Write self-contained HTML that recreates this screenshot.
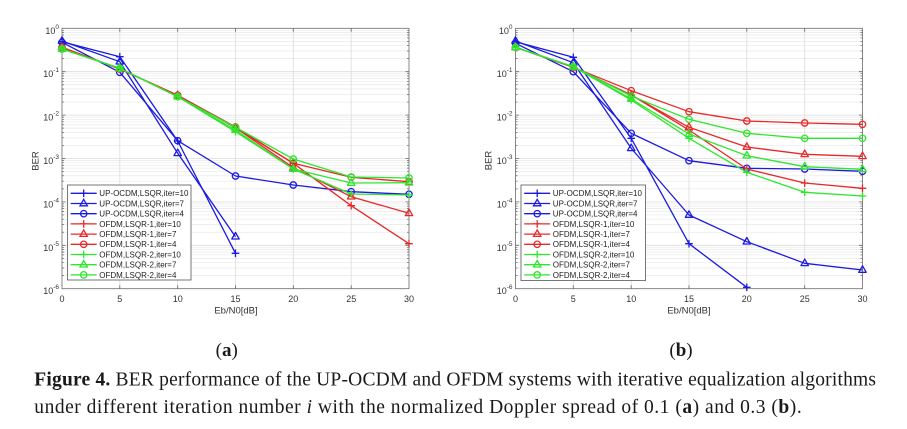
<!DOCTYPE html>
<html>
<head>
<meta charset="utf-8">
<style>
html,body{margin:0;padding:0;background:#fff;}
svg{display:block;}
</style>
</head>
<body>
<svg xmlns="http://www.w3.org/2000/svg" xmlns:xlink="http://www.w3.org/1999/xlink" width="907" height="429" viewBox="0 0 907 429">
<defs>
<path id="hmin" d="M62 30.29H409M62 32.51H409M62 35.02H409M62 37.93H409M62 41.36H409M62 45.57H409M62 50.99H409M62 58.64H409M62 73.69H409M62 75.91H409M62 78.42H409M62 81.33H409M62 84.76H409M62 88.97H409M62 94.39H409M62 102.04H409M62 117.09H409M62 119.31H409M62 121.82H409M62 124.73H409M62 128.16H409M62 132.37H409M62 137.79H409M62 145.44H409M62 160.49H409M62 162.71H409M62 165.22H409M62 168.13H409M62 171.56H409M62 175.77H409M62 181.19H409M62 188.84H409M62 203.89H409M62 206.11H409M62 208.62H409M62 211.53H409M62 214.96H409M62 219.17H409M62 224.59H409M62 232.24H409M62 247.29H409M62 249.51H409M62 252.02H409M62 254.93H409M62 258.36H409M62 262.57H409M62 267.99H409M62 275.64H409"/>
<path id="hmaj" d="M62 71.7H409M62 115.1H409M62 158.5H409M62 201.9H409M62 245.3H409"/>
<path id="vmaj" d="M119.8 28.3V288.7M177.7 28.3V288.7M235.5 28.3V288.7M293.3 28.3V288.7M351.2 28.3V288.7"/>
<clipPath id="c2" clipPathUnits="userSpaceOnUse"><rect x="62" y="28" width="2" height="261"/><rect x="407" y="28" width="2" height="261"/></clipPath>
<clipPath id="c4" clipPathUnits="userSpaceOnUse"><rect x="62" y="28" width="3.5" height="261"/><rect x="405.5" y="28" width="3.5" height="261"/></clipPath>
<clipPath id="cv" clipPathUnits="userSpaceOnUse"><rect x="62" y="28.3" width="347" height="3.5"/><rect x="62" y="285.2" width="347" height="3.5"/></clipPath>
<g id="frame" fill="none">
 <use xlink:href="#hmin" href="#hmin" stroke="#e9e9e9" stroke-width="0.7"/>
 <use xlink:href="#hmaj" href="#hmaj" stroke="#dcdcdc" stroke-width="0.8"/>
 <use xlink:href="#vmaj" href="#vmaj" stroke="#dcdcdc" stroke-width="0.8"/>
 <use xlink:href="#hmin" href="#hmin" stroke="#666" stroke-width="0.7" clip-path="url(#c2)"/>
 <use xlink:href="#hmaj" href="#hmaj" stroke="#666" stroke-width="0.8" clip-path="url(#c4)"/>
 <use xlink:href="#vmaj" href="#vmaj" stroke="#666" stroke-width="0.8" clip-path="url(#cv)"/>
 <rect x="62" y="28.3" width="347" height="260.4" fill="none" stroke="#6a6a6a" stroke-width="0.8"/>
</g>
<path id="mp" d="M0,-3.8V3.8M-3.8,0H3.8"/>
<path id="mt" d="M0,-4.2L3.7,2.3H-3.7Z"/>
<circle id="mc" r="3.2"/>
</defs>

<rect width="907" height="429" fill="#fff"/>

<use xlink:href="#frame" href="#frame"/>
<use xlink:href="#frame" href="#frame" x="453.5"/>

<g font-family="Liberation Sans, Arial, sans-serif" font-size="9" fill="#333">
 <g text-anchor="middle">
  <text x="62" y="302">0</text><text x="119.8" y="302">5</text><text x="177.7" y="302">10</text><text x="235.5" y="302">15</text><text x="293.3" y="302">20</text><text x="351.2" y="302">25</text><text x="409" y="302">30</text>
  <text x="515.5" y="302">0</text><text x="573.3" y="302">5</text><text x="631.2" y="302">10</text><text x="689" y="302">15</text><text x="746.8" y="302">20</text><text x="804.7" y="302">25</text><text x="862.5" y="302">30</text>
 </g>
 <g text-anchor="end">
  <text x="59" y="33.8">10<tspan font-size="6.5" dy="-5">0</tspan></text>
  <text x="59" y="77.2">10<tspan font-size="6.5" dy="-5">-1</tspan></text>
  <text x="59" y="120.6">10<tspan font-size="6.5" dy="-5">-2</tspan></text>
  <text x="59" y="164">10<tspan font-size="6.5" dy="-5">-3</tspan></text>
  <text x="59" y="207.4">10<tspan font-size="6.5" dy="-5">-4</tspan></text>
  <text x="59" y="250.8">10<tspan font-size="6.5" dy="-5">-5</tspan></text>
  <text x="59" y="294.2">10<tspan font-size="6.5" dy="-5">-6</tspan></text>
  <text x="512.5" y="33.8">10<tspan font-size="6.5" dy="-5">0</tspan></text>
  <text x="512.5" y="77.2">10<tspan font-size="6.5" dy="-5">-1</tspan></text>
  <text x="512.5" y="120.6">10<tspan font-size="6.5" dy="-5">-2</tspan></text>
  <text x="512.5" y="164">10<tspan font-size="6.5" dy="-5">-3</tspan></text>
  <text x="512.5" y="207.4">10<tspan font-size="6.5" dy="-5">-4</tspan></text>
  <text x="512.5" y="250.8">10<tspan font-size="6.5" dy="-5">-5</tspan></text>
  <text x="512.5" y="294.2">10<tspan font-size="6.5" dy="-5">-6</tspan></text>
 </g>
 <g font-size="9.5" text-anchor="middle" fill="#333">
  <text x="236" y="313.5">Eb/N0[dB]</text>
  <text x="689" y="313.5">Eb/N0[dB]</text>
  <text transform="translate(38.4,161) rotate(-90)">BER</text>
  <text transform="translate(491.7,160.5) rotate(-90)">BER</text>
 </g>
</g>

<g fill="none" stroke-width="1.3" stroke-linejoin="round">
 <g stroke="#1a1ae0">
  <polyline points="62,41.7 119.8,56.7 177.7,141 235.5,253.3"/>
  <use href="#mp" x="62" y="41.7"/><use href="#mp" x="119.8" y="56.7"/><use href="#mp" x="177.7" y="141"/><use href="#mp" x="235.5" y="253.3"/>
  <polyline points="62,41 119.8,61.7 177.7,153.3 235.5,236.7"/>
  <use href="#mt" x="62" y="41"/><use href="#mt" x="119.8" y="61.7"/><use href="#mt" x="177.7" y="153.3"/><use href="#mt" x="235.5" y="236.7"/>
  <polyline points="62,42.3 119.8,72.3 177.7,140.7 235.5,176 293.3,185 351.2,191.7 409,194.3"/>
  <use href="#mc" x="62" y="42.3"/><use href="#mc" x="119.8" y="72.3"/><use href="#mc" x="177.7" y="140.7"/><use href="#mc" x="235.5" y="176"/><use href="#mc" x="293.3" y="185"/><use href="#mc" x="351.2" y="191.7"/><use href="#mc" x="409" y="194.3"/>
 </g>
 <g stroke="#e82828">
  <polyline points="62,47.3 119.8,69 177.7,95.3 235.5,127.7 293.3,163.3 351.2,205.7 409,243.7"/>
  <use href="#mp" x="62" y="47.3"/><use href="#mp" x="119.8" y="69"/><use href="#mp" x="177.7" y="95.3"/><use href="#mp" x="235.5" y="127.7"/><use href="#mp" x="293.3" y="163.3"/><use href="#mp" x="351.2" y="205.7"/><use href="#mp" x="409" y="243.7"/>
  <polyline points="62,47.3 119.8,69 177.7,95.3 235.5,127.7 293.3,167.7 351.2,196.7 409,213.3"/>
  <use href="#mt" x="62" y="47.3"/><use href="#mt" x="119.8" y="69"/><use href="#mt" x="177.7" y="95.3"/><use href="#mt" x="235.5" y="127.7"/><use href="#mt" x="293.3" y="167.7"/><use href="#mt" x="351.2" y="196.7"/><use href="#mt" x="409" y="213.3"/>
  <polyline points="62,47.3 119.8,69 177.7,95.3 235.5,127 293.3,163.3 351.2,177.3 409,181.7"/>
  <use href="#mc" x="62" y="47.3"/><use href="#mc" x="119.8" y="69"/><use href="#mc" x="177.7" y="95.3"/><use href="#mc" x="235.5" y="127"/><use href="#mc" x="293.3" y="163.3"/><use href="#mc" x="351.2" y="177.3"/><use href="#mc" x="409" y="181.7"/>
 </g>
 <g stroke="#2ee62e">
  <polyline points="62,49 119.8,68.3 177.7,96.7 235.5,131.7 293.3,169 351.2,194 409,195"/>
  <use href="#mp" x="62" y="49"/><use href="#mp" x="119.8" y="68.3"/><use href="#mp" x="177.7" y="96.7"/><use href="#mp" x="235.5" y="131.7"/><use href="#mp" x="293.3" y="169"/><use href="#mp" x="351.2" y="194"/><use href="#mp" x="409" y="195"/>
  <polyline points="62,49 119.8,68.3 177.7,96.7 235.5,130 293.3,169 351.2,183 409,182.7"/>
  <use href="#mt" x="62" y="49"/><use href="#mt" x="119.8" y="68.3"/><use href="#mt" x="177.7" y="96.7"/><use href="#mt" x="235.5" y="130"/><use href="#mt" x="293.3" y="169"/><use href="#mt" x="351.2" y="183"/><use href="#mt" x="409" y="182.7"/>
  <polyline points="62,49 119.8,68.3 177.7,96.7 235.5,127.3 293.3,159 351.2,177 409,178"/>
  <use href="#mc" x="62" y="49"/><use href="#mc" x="119.8" y="68.3"/><use href="#mc" x="177.7" y="96.7"/><use href="#mc" x="235.5" y="127.3"/><use href="#mc" x="293.3" y="159"/><use href="#mc" x="351.2" y="177"/><use href="#mc" x="409" y="178"/>
 </g>
</g>

<g fill="none" stroke-width="1.3" stroke-linejoin="round">
 <g stroke="#1a1ae0">
  <polyline points="515.5,41.7 573.3,57.3 631.2,138.3 689,243.7 746.8,287.3"/>
  <use href="#mp" x="515.5" y="41.7"/><use href="#mp" x="573.3" y="57.3"/><use href="#mp" x="631.2" y="138.3"/><use href="#mp" x="689" y="243.7"/><use href="#mp" x="746.8" y="287.3"/>
  <polyline points="515.5,41 573.3,62.7 631.2,148.3 689,215 746.8,241.7 804.7,263.3 862.5,270"/>
  <use href="#mt" x="515.5" y="41"/><use href="#mt" x="573.3" y="62.7"/><use href="#mt" x="631.2" y="148.3"/><use href="#mt" x="689" y="215"/><use href="#mt" x="746.8" y="241.7"/><use href="#mt" x="804.7" y="263.3"/><use href="#mt" x="862.5" y="270"/>
  <polyline points="515.5,43.3 573.3,71.7 631.2,133.3 689,160.7 746.8,168.3 804.7,169 862.5,171.3"/>
  <use href="#mc" x="515.5" y="43.3"/><use href="#mc" x="573.3" y="71.7"/><use href="#mc" x="631.2" y="133.3"/><use href="#mc" x="689" y="160.7"/><use href="#mc" x="746.8" y="168.3"/><use href="#mc" x="804.7" y="169"/><use href="#mc" x="862.5" y="171.3"/>
 </g>
 <g stroke="#e82828">
  <polyline points="515.5,47.3 573.3,67.3 631.2,95 689,130 746.8,169 804.7,183 862.5,188.3"/>
  <use href="#mp" x="515.5" y="47.3"/><use href="#mp" x="573.3" y="67.3"/><use href="#mp" x="631.2" y="95"/><use href="#mp" x="689" y="130"/><use href="#mp" x="746.8" y="169"/><use href="#mp" x="804.7" y="183"/><use href="#mp" x="862.5" y="188.3"/>
  <polyline points="515.5,47.3 573.3,67.3 631.2,95 689,127.3 746.8,147 804.7,154.3 862.5,156.3"/>
  <use href="#mt" x="515.5" y="47.3"/><use href="#mt" x="573.3" y="67.3"/><use href="#mt" x="631.2" y="95"/><use href="#mt" x="689" y="127.3"/><use href="#mt" x="746.8" y="147"/><use href="#mt" x="804.7" y="154.3"/><use href="#mt" x="862.5" y="156.3"/>
  <polyline points="515.5,47.3 573.3,67.3 631.2,90.7 689,111.7 746.8,121 804.7,123 862.5,124.3"/>
  <use href="#mc" x="515.5" y="47.3"/><use href="#mc" x="573.3" y="67.3"/><use href="#mc" x="631.2" y="90.7"/><use href="#mc" x="689" y="111.7"/><use href="#mc" x="746.8" y="121"/><use href="#mc" x="804.7" y="123"/><use href="#mc" x="862.5" y="124.3"/>
 </g>
 <g stroke="#2ee62e">
  <polyline points="515.5,47.3 573.3,66.7 631.2,100 689,138.3 746.8,172.3 804.7,192.3 862.5,196"/>
  <use href="#mp" x="515.5" y="47.3"/><use href="#mp" x="573.3" y="66.7"/><use href="#mp" x="631.2" y="100"/><use href="#mp" x="689" y="138.3"/><use href="#mp" x="746.8" y="172.3"/><use href="#mp" x="804.7" y="192.3"/><use href="#mp" x="862.5" y="196"/>
  <polyline points="515.5,47.3 573.3,66.7 631.2,99 689,134 746.8,155.7 804.7,166.7 862.5,169.3"/>
  <use href="#mt" x="515.5" y="47.3"/><use href="#mt" x="573.3" y="66.7"/><use href="#mt" x="631.2" y="99"/><use href="#mt" x="689" y="134"/><use href="#mt" x="746.8" y="155.7"/><use href="#mt" x="804.7" y="166.7"/><use href="#mt" x="862.5" y="169.3"/>
  <polyline points="515.5,47.3 573.3,66.7 631.2,96 689,119.3 746.8,133.3 804.7,138.3 862.5,138.3"/>
  <use href="#mc" x="515.5" y="47.3"/><use href="#mc" x="573.3" y="66.7"/><use href="#mc" x="631.2" y="96"/><use href="#mc" x="689" y="119.3"/><use href="#mc" x="746.8" y="133.3"/><use href="#mc" x="804.7" y="138.3"/><use href="#mc" x="862.5" y="138.3"/>
 </g>
</g>

<g font-family="Liberation Sans, Arial, sans-serif" font-size="8" fill="#222">
 <rect x="67.5" y="185" width="123.5" height="95" fill="#fff" stroke="#555" stroke-width="0.8"/>
 <rect x="521" y="185" width="124.5" height="95.5" fill="#fff" stroke="#555" stroke-width="0.8"/>
 <g fill="none" stroke-width="1.3">
  <g stroke="#1a1ae0">
   <path d="M70.7 193.3H96.7M70.7 203.5H96.7M70.7 213.7H96.7M524.2 193.3H550.2M524.2 203.5H550.2M524.2 213.7H550.2"/>
   <use href="#mp" x="83.7" y="193.3"/><use href="#mt" x="83.7" y="203.5"/><use href="#mc" x="83.7" y="213.7"/>
   <use href="#mp" x="537.2" y="193.3"/><use href="#mt" x="537.2" y="203.5"/><use href="#mc" x="537.2" y="213.7"/>
  </g>
  <g stroke="#e82828">
   <path d="M70.7 223.9H96.7M70.7 234.1H96.7M70.7 244.3H96.7M524.2 223.9H550.2M524.2 234.1H550.2M524.2 244.3H550.2"/>
   <use href="#mp" x="83.7" y="223.9"/><use href="#mt" x="83.7" y="234.1"/><use href="#mc" x="83.7" y="244.3"/>
   <use href="#mp" x="537.2" y="223.9"/><use href="#mt" x="537.2" y="234.1"/><use href="#mc" x="537.2" y="244.3"/>
  </g>
  <g stroke="#2ee62e">
   <path d="M70.7 254.5H96.7M70.7 264.7H96.7M70.7 274.9H96.7M524.2 254.5H550.2M524.2 264.7H550.2M524.2 274.9H550.2"/>
   <use href="#mp" x="83.7" y="254.5"/><use href="#mt" x="83.7" y="264.7"/><use href="#mc" x="83.7" y="274.9"/>
   <use href="#mp" x="537.2" y="254.5"/><use href="#mt" x="537.2" y="264.7"/><use href="#mc" x="537.2" y="274.9"/>
  </g>
 </g>
 <text x="99.3" y="196.2">UP-OCDM,LSQR,iter=10</text>
 <text x="99.3" y="206.4">UP-OCDM,LSQR,iter=7</text>
 <text x="99.3" y="216.6">UP-OCDM,LSQR,iter=4</text>
 <text x="99.3" y="226.8">OFDM,LSQR-1,iter=10</text>
 <text x="99.3" y="237">OFDM,LSQR-1,iter=7</text>
 <text x="99.3" y="247.2">OFDM,LSQR-1,iter=4</text>
 <text x="99.3" y="257.4">OFDM,LSQR-2,iter=10</text>
 <text x="99.3" y="267.6">OFDM,LSQR-2,iter=7</text>
 <text x="99.3" y="277.8">OFDM,LSQR-2,iter=4</text>
 <text x="552.8" y="196.2">UP-OCDM,LSQR,iter=10</text>
 <text x="552.8" y="206.4">UP-OCDM,LSQR,iter=7</text>
 <text x="552.8" y="216.6">UP-OCDM,LSQR,iter=4</text>
 <text x="552.8" y="226.8">OFDM,LSQR-1,iter=10</text>
 <text x="552.8" y="237">OFDM,LSQR-1,iter=7</text>
 <text x="552.8" y="247.2">OFDM,LSQR-1,iter=4</text>
 <text x="552.8" y="257.4">OFDM,LSQR-2,iter=10</text>
 <text x="552.8" y="267.6">OFDM,LSQR-2,iter=7</text>
 <text x="552.8" y="277.8">OFDM,LSQR-2,iter=4</text>
</g>

<g font-family="Liberation Serif, Times New Roman, serif" font-size="19.5" fill="#1a1a1a">
 <text x="226.7" y="356" text-anchor="middle" font-size="19">(<tspan font-weight="bold">a</tspan>)</text>
 <text x="681" y="356" text-anchor="middle" font-size="19">(<tspan font-weight="bold">b</tspan>)</text>
 <text x="34.3" y="385.5" textLength="841.7" lengthAdjust="spacing"><tspan font-weight="bold">Figure 4.</tspan> BER performance of the UP-OCDM and OFDM systems with iterative equalization algorithms</text>
 <text x="34.3" y="413" textLength="767.4" lengthAdjust="spacing">under different iteration number <tspan font-style="italic">i</tspan> with the normalized Doppler spread of 0.1 (<tspan font-weight="bold">a</tspan>) and 0.3 (<tspan font-weight="bold">b</tspan>).</text>
</g>
</svg>
</body>
</html>
